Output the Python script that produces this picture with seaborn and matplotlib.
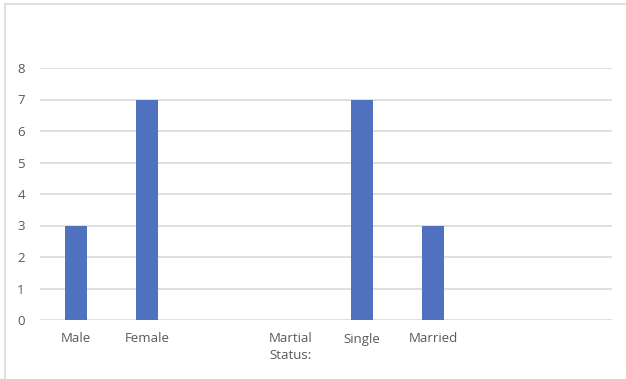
import matplotlib
matplotlib.use("Agg")
import matplotlib.pyplot as plt
import seaborn as sns
import pandas as pd
from matplotlib.patches import Rectangle

categories = ["Male", "Female", " ", "Martial\nStatus:", "Single", "Married", "  ", "   "]
values = [3, 7, 0, 0, 7, 3, 0, 0]
yticks = [0, 1, 2, 3, 4, 5, 6, 7, 8]

sns.set_theme(style="white")
plt.rcParams['font.family'] = ['Open Sans', 'DejaVu Sans']

W, H = 626, 379
fig = plt.figure(figsize=(W / 100, H / 100), dpi=100)
ax = fig.add_axes([40 / W, (H - 320) / H, (612 - 40) / W, (320 - 68) / H])

df = pd.DataFrame({"cat": categories, "val": values})
sns.barplot(data=df, x="cat", y="val", order=categories, color="#4F71BE",
            saturation=1, width=0.31, linewidth=0, ax=ax, zorder=3)

ax.set_ylim(0, 8)
ax.set_yticks(yticks)
ax.set_yticklabels([str(t) for t in yticks])
ax.set_xlim(-0.5, len(categories) - 0.5)
ax.yaxis.grid(True, color="#D9D9D9", linewidth=1.2, zorder=0)
ax.set_axisbelow(True)
for s in ax.spines.values():
    s.set_visible(False)
ax.set_xlabel("")
ax.set_ylabel("")
ax.tick_params(axis="both", length=0, labelsize=9.5, labelcolor="#595959")
ax.tick_params(axis="y", pad=11)
ax.tick_params(axis="x", pad=9)
for lbl in ax.get_xticklabels():
    lbl.set_linespacing(1.35)

# outer chart border
fig.patches.append(Rectangle((5 / W, -0.1), 1.2, (H - 4) / H + 0.1,
                             transform=fig.transFigure, fill=False,
                             edgecolor="#D9D9D9", linewidth=1.2))

fig.savefig("out.png", dpi=100)
